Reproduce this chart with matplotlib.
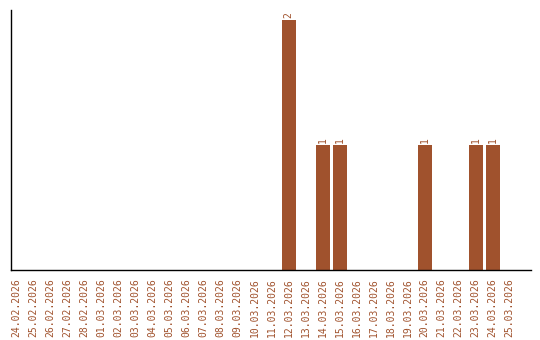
import matplotlib
matplotlib.use("Agg")
import matplotlib.pyplot as plt

# ===== Data =====
dates = ["24.02.2026", "25.02.2026", "26.02.2026", "27.02.2026", "28.02.2026",
         "01.03.2026", "02.03.2026", "03.03.2026", "04.03.2026", "05.03.2026",
         "06.03.2026", "07.03.2026", "08.03.2026", "09.03.2026", "10.03.2026",
         "11.03.2026", "12.03.2026", "13.03.2026", "14.03.2026", "15.03.2026",
         "16.03.2026", "17.03.2026", "18.03.2026", "19.03.2026", "20.03.2026",
         "21.03.2026", "22.03.2026", "23.03.2026", "24.03.2026", "25.03.2026"]
counts = [0, 0, 0, 0, 0, 0, 0, 0, 0, 0, 0, 0, 0, 0, 0,
          0, 2, 0, 1, 1, 0, 0, 0, 0, 1, 0, 0, 1, 1, 0]

color = "#A0522D"

fig = plt.figure(figsize=(5.4, 3.4), dpi=100)
ax = fig.add_axes([11 / 540, 70 / 340, 520 / 540, 260 / 340])

x = list(range(len(dates)))
ax.bar(x, counts, width=0.82, color=color)

# value labels above non-zero bars
for xi, v in zip(x, counts):
    if v > 0:
        ax.text(xi, v + 0.02, str(v), rotation=90, ha="center", va="bottom",
                fontsize=7, family="DejaVu Sans Mono", color=color)

ax.set_xticks(x)
ax.set_xticklabels(dates, rotation=90, fontsize=7, family="DejaVu Sans Mono", color=color)
ax.tick_params(axis="x", length=0, pad=6)
ax.set_yticks([])
ax.set_xlim(-0.33, 30.25)
ax.set_ylim(0, 2.08)

for side in ["top", "right"]:
    ax.spines[side].set_visible(False)
ax.spines["left"].set_linewidth(1)
ax.spines["bottom"].set_linewidth(1)

fig.savefig("out.png", dpi=100)
